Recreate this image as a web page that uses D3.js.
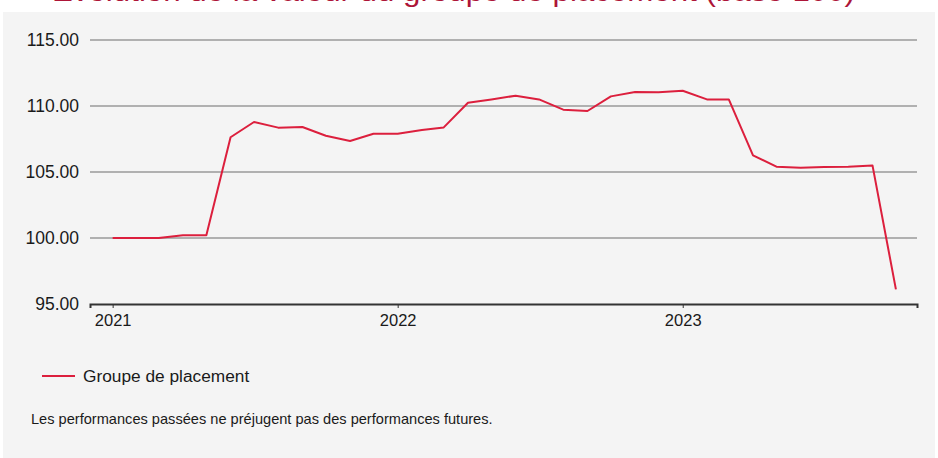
<!DOCTYPE html>
<html>
<head>
<meta charset="utf-8">
<script src="https://cdn.jsdelivr.net/npm/d3@7"></script>
<style>
  body { margin: 0; background: #fff; }
  text { font-family: "Liberation Sans", Arial, sans-serif; }
</style>
</head>
<body>
<div id="chart"></div>
<script>
// monthly values, base 100
var months = ["2021-01","2021-02","2021-03","2021-04","2021-05","2021-06","2021-07","2021-08","2021-09","2021-10","2021-11","2021-12",
              "2022-01","2022-02","2022-03","2022-04","2022-05","2022-06","2022-07","2022-08","2022-09","2022-10","2022-11","2022-12",
              "2023-01","2023-02","2023-03","2023-04","2023-05","2023-06","2023-07","2023-08","2023-09","2023-10"];
var values = [100.0, 100.0, 100.0, 100.2, 100.2, 107.63, 108.79, 108.36, 108.41, 107.75, 107.35, 107.9,
              107.9, 108.18, 108.38, 110.25, 110.5, 110.78, 110.5, 109.72, 109.62, 110.73, 111.06, 111.04,
              111.16, 110.5, 110.5, 106.26, 105.4, 105.33, 105.38, 105.4, 105.5, 96.11];
var yTicks = [95, 100, 105, 110, 115];
var yearTicks = ["2021-01", "2022-01", "2023-01"];
var seriesName = "Groupe de placement";
var title = "Évolution de la valeur du groupe de placement (base 100)";
var footnote = "Les performances passées ne préjugent pas des performances futures.";

var W = 938, H = 458;
var parse = d3.timeParse("%Y-%m");
var data = months.map(function (m, i) { return {date: parse(m), value: values[i]}; });

var svg = d3.select("#chart").append("svg")
    .attr("width", W)
    .attr("height", H);

// panel background
svg.append("rect")
    .attr("x", 3).attr("y", 12)
    .attr("width", 932).attr("height", H - 12)
    .attr("fill", "#f4f4f4");

// title, mostly cut off at the top (as in the source)
svg.append("text")
    .attr("x", 52).attr("y", 0.5)
    .attr("textLength", 803)
    .attr("lengthAdjust", "spacingAndGlyphs")
    .attr("font-size", 27)
    .attr("fill", "#ad1538")
    .text(title);

var margin = {left: 90, right: 917, top: 40, bottom: 304};

var x = d3.scaleTime()
    .domain([new Date(2020, 11, 3), new Date(2023, 9, 28)])
    .range([margin.left, margin.right]);

var y = d3.scaleLinear()
    .domain([95, 115])
    .range([margin.bottom, margin.top]);

// gridlines
svg.append("g")
  .selectAll("line")
  .data(yTicks.filter(function (d) { return d > 95; }))
  .enter()
  .append("line")
    .attr("x1", margin.left).attr("x2", margin.right)
    .attr("y1", function (d) { return y(d); })
    .attr("y2", function (d) { return y(d); })
    .attr("stroke", "#9a9a9a")
    .attr("stroke-width", 1.5);

// y labels
var yAxis = svg.append("g")
    .attr("transform", "translate(" + margin.left + ",0)")
    .call(d3.axisLeft(y).tickValues(yTicks).tickFormat(d3.format(".2f")).tickSize(0).tickPadding(11));
yAxis.select(".domain").remove();
yAxis.selectAll("text")
    .attr("font-size", 17.5)
    .attr("fill", "#1a1a1a")
    .style("font-family", "'Liberation Sans', Arial, sans-serif");

// x axis
var xAxis = svg.append("g")
    .attr("transform", "translate(0," + margin.bottom + ")")
    .call(d3.axisBottom(x).tickValues(yearTicks.map(parse)).tickFormat(d3.timeFormat("%Y")).tickSizeOuter(0).tickSize(4).tickPadding(6));
xAxis.select(".domain")
    .attr("stroke", "#333")
    .attr("stroke-width", 2);
xAxis.selectAll(".tick line").attr("stroke", "#333");
xAxis.selectAll("text")
    .attr("font-size", 16.5)
    .attr("fill", "#1a1a1a")
    .style("font-family", "'Liberation Sans', Arial, sans-serif");

// series line
var line = d3.line()
    .x(function (d) { return x(d.date); })
    .y(function (d) { return y(d.value); });

svg.append("path")
    .datum(data)
    .attr("d", line)
    .attr("fill", "none")
    .attr("stroke", "#dc1f3d")
    .attr("stroke-width", 2)
    .attr("stroke-linejoin", "round");

// legend
svg.append("line")
    .attr("x1", 42).attr("x2", 75)
    .attr("y1", 376).attr("y2", 376)
    .attr("stroke", "#dc1f3d")
    .attr("stroke-width", 2);
svg.append("text")
    .attr("x", 83).attr("y", 382)
    .attr("font-size", 17.3)
    .attr("fill", "#1a1a1a")
    .text(seriesName);

// footnote
svg.append("text")
    .attr("x", 31).attr("y", 424)
    .attr("font-size", 14.6)
    .attr("fill", "#1a1a1a")
    .text(footnote);
</script>
</body>
</html>
